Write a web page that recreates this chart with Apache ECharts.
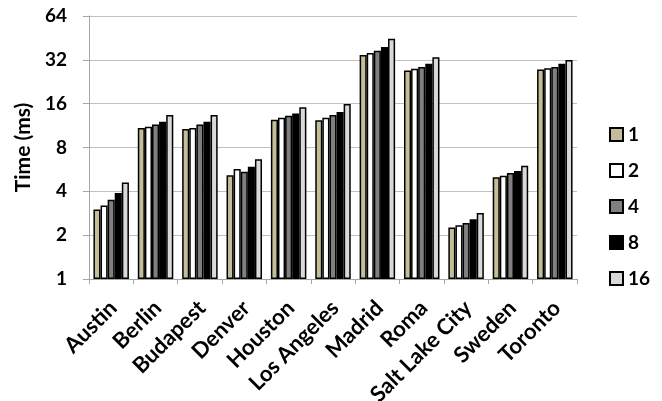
<!DOCTYPE html>
<html>
<head>
<meta charset="utf-8">
<script src="https://cdn.jsdelivr.net/npm/echarts@6/dist/echarts.min.js"></script>
<style>
  html, body { margin: 0; padding: 0; background: #fff; }
  #chart { width: 662px; height: 401px; }
</style>
</head>
<body>
<div id="chart"></div>
<script>
// City datasets along the x axis
const cities = ['Austin', 'Berlin', 'Budapest', 'Denver', 'Houston', 'Los Angeles',
                'Madrid', 'Roma', 'Salt Lake City', 'Sweden', 'Toronto'];

// Run time (ms) per thread count
const threadLabels = ['1', '2', '4', '8', '16'];
const t1  = [3.0, 10.9, 10.7, 5.15, 12.4, 12.3, 34.5, 27.0, 2.26, 5.0, 27.5];
const t2  = [3.2, 11.1, 10.9, 5.7, 12.8, 12.8, 35.6, 27.8, 2.34, 5.12, 28.0];
const t4  = [3.5, 11.5, 11.5, 5.45, 13.2, 13.4, 37.0, 28.6, 2.42, 5.35, 28.6];
const t8  = [3.9, 12.0, 12.0, 5.9, 13.7, 14.0, 39.2, 30.1, 2.57, 5.52, 30.1];
const t16 = [4.6, 13.4, 13.4, 6.65, 15.1, 15.9, 44.7, 33.3, 2.84, 6.0, 31.9];

// Y axis tick values (powers of two)
const yTicks = [1, 2, 4, 8, 16, 32, 64];

const seriesValues = [t1, t2, t4, t8, t16];
const fills = ['#c4bd97', '#ffffff', '#808080', '#000000', '#d9d9d9'];

const font = 'Lato, "Liberation Sans", sans-serif';

const chart = echarts.init(document.getElementById('chart'), null, { renderer: 'canvas' });

chart.setOption({
  animation: false,
  backgroundColor: '#ffffff',
  grid: {
    left: 89, right: 85, top: 16, bottom: 122,
    containLabel: false,
    outerBoundsMode: 'none'
  },
  legend: {
    orient: 'vertical',
    left: 609,
    top: 125,
    padding: 0,
    itemWidth: 13,
    itemHeight: 13,
    itemGap: 17,
    icon: 'rect',
    textStyle: { fontFamily: font, fontWeight: 'bold', fontSize: 19, color: '#000' },
    data: threadLabels
  },
  xAxis: {
    type: 'category',
    data: cities,
    axisLine: { lineStyle: { color: '#a6a6a6', width: 1 } },
    axisTick: { show: true, length: 5, lineStyle: { color: '#a6a6a6' } },
    axisLabel: {
      interval: 0,
      rotate: 45,
      margin: 12,
      verticalAlign: 'top',
      padding: [0, 8, 0, 0],
      fontFamily: font,
      fontWeight: 'bold',
      fontSize: 22,
      color: '#000'
    }
  },
  yAxis: {
    type: 'log',
    logBase: 2,
    min: yTicks[0],
    max: yTicks[yTicks.length - 1],
    splitNumber: yTicks.length - 1,
    name: 'Time (ms)',
    nameLocation: 'middle',
    nameRotate: 90,
    nameGap: 52,
    nameTextStyle: { fontFamily: font, fontWeight: 'bold', fontSize: 21, color: '#000' },
    axisLine: { show: true, lineStyle: { color: '#a6a6a6', width: 1 } },
    axisTick: { show: true, length: 6, lineStyle: { color: '#a6a6a6' } },
    splitLine: { show: true, lineStyle: { color: '#c0c0c0', width: 1 } },
    axisLabel: {
      margin: 22,
      fontFamily: font,
      fontWeight: 'bold',
      fontSize: 19,
      color: '#000',
      formatter: v => String(Math.round(v))
    }
  },
  series: seriesValues.map((vals, i) => ({
    name: threadLabels[i],
    type: 'bar',
    data: vals,
    barGap: '0%',
    barCategoryGap: '20%',
    itemStyle: { color: fills[i], borderColor: '#000', borderWidth: 1.5 }
  }))
});
</script>
</body>
</html>
